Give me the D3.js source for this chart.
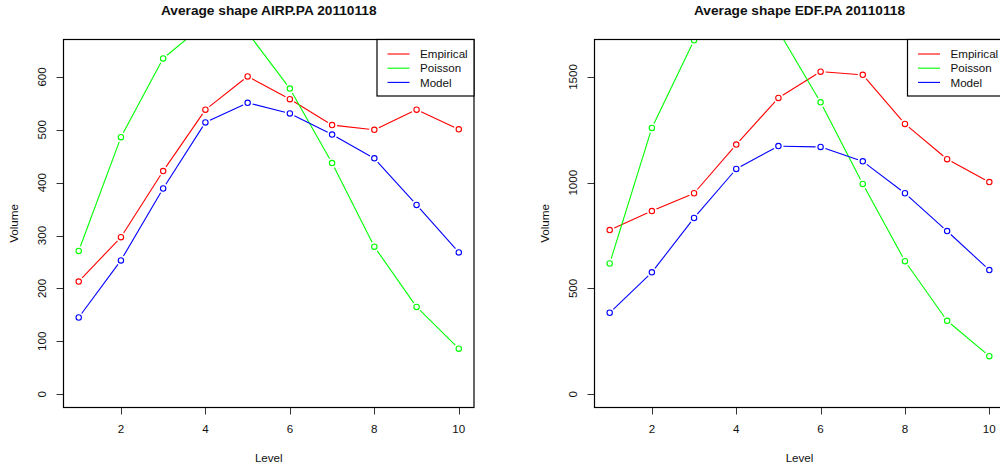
<!DOCTYPE html>
<html>
<head>
<meta charset="utf-8">
<script src="https://cdn.jsdelivr.net/npm/d3@7"></script>
<style>
  body { margin: 0; background: #fff; }
  svg { display: block; font-family: "Liberation Sans", Arial, sans-serif; }
</style>
</head>
<body>
<svg width="1000" height="465"></svg>
<script>
// data
const levels = [1, 2, 3, 4, 5, 6, 7, 8, 9, 10];
const xTicks = [2, 4, 6, 8, 10];
const seriesNames = ["Empirical", "Poisson", "Model"];
const seriesColors = ["#ff0000", "#00ff00", "#0000ff"];

const airpEmpirical = [213, 297, 422, 538, 601, 558, 509, 500, 538, 501];
const airpPoisson = [271, 486, 635, 701, 684, 578, 437, 279, 165, 86];
const airpModel = [145, 253, 389, 514, 551, 531, 491, 446, 358, 268];
const airpYTicks = [0, 100, 200, 300, 400, 500, 600];

const edfEmpirical = [776, 866, 950, 1180, 1401, 1525, 1510, 1278, 1111, 1003];
const edfPoisson = [618, 1259, 1673, 1840, 1718, 1380, 994, 629, 347, 180];
const edfModel = [385, 576, 833, 1065, 1173, 1169, 1101, 950, 771, 587];
const edfYTicks = [0, 500, 1000, 1500];

const svg = d3.select("svg");

function drawPanel(opt) {
    const top = 39.5, bottom = 407.5;
    const g = svg.append("g");

    const x = d3.scaleLinear().domain([0.64, 10.36]).range([opt.left, opt.right]);
    const y = d3.scaleLinear().domain(opt.yDomain).range([bottom, top]);

    // clip to plot region
    g.append("clipPath").attr("id", opt.id + "-clip")
        .append("rect")
        .attr("x", opt.left).attr("y", top)
        .attr("width", opt.right - opt.left).attr("height", bottom - top);

    const plot = g.append("g").attr("clip-path", `url(#${opt.id}-clip)`);

    const gap = 5;
    opt.series.forEach((vals, si) => {
        const pts = vals.map((v, i) => [x(levels[i]), y(v)]);
        // type = "b": segments stop short of the points
        for (let i = 0; i < pts.length - 1; i++) {
            const [x0, y0] = pts[i], [x1, y1] = pts[i + 1];
            const len = Math.hypot(x1 - x0, y1 - y0);
            if (len <= 2 * gap) continue;
            const ux = (x1 - x0) / len, uy = (y1 - y0) / len;
            plot.append("line")
                .attr("x1", x0 + ux * gap).attr("y1", y0 + uy * gap)
                .attr("x2", x1 - ux * gap).attr("y2", y1 - uy * gap)
                .attr("stroke", seriesColors[si])
                .attr("stroke-width", 1.1);
        }
        plot.selectAll(null)
            .data(vals)
            .enter().append("circle")
            .attr("cx", (d, i) => x(levels[i]))
            .attr("cy", d => y(d))
            .attr("r", 2.7)
            .attr("fill", "none")
            .attr("stroke", seriesColors[si])
            .attr("stroke-width", 1.1);
    });

    // y axis ticks + labels
    const yAx = g.append("g");
    yAx.selectAll("line").data(opt.yTicks).enter().append("line")
        .attr("x1", opt.left - 7).attr("x2", opt.left)
        .attr("y1", d => Math.round(y(d)) + 0.5).attr("y2", d => Math.round(y(d)) + 0.5)
        .attr("stroke", "#333");
    yAx.selectAll("text").data(opt.yTicks).enter().append("text")
        .attr("transform", d => `translate(${opt.yLabelX + 4.2},${y(d)}) rotate(-90)`)
        .attr("text-anchor", "middle")
        .attr("font-size", 11.6)
        .attr("fill", "#111")
        .text(d => d);

    // x axis ticks + labels
    const xAx = g.append("g");
    xAx.selectAll("line").data(xTicks).enter().append("line")
        .attr("x1", d => Math.round(x(d)) + 0.5).attr("x2", d => Math.round(x(d)) + 0.5)
        .attr("y1", bottom).attr("y2", bottom + 7)
        .attr("stroke", "#333");
    xAx.selectAll("text").data(xTicks).enter().append("text")
        .attr("x", d => x(d))
        .attr("y", 433.2)
        .attr("text-anchor", "middle")
        .attr("font-size", 11.6)
        .attr("fill", "#111")
        .text(d => d);

    // box
    g.append("rect")
        .attr("x", opt.left).attr("y", top)
        .attr("width", opt.right - opt.left).attr("height", bottom - top)
        .attr("fill", "none").attr("stroke", "#000").attr("stroke-width", 1.2);

    // titles
    const cx = (opt.left + opt.right) / 2;
    g.append("text")
        .attr("x", cx).attr("y", 15.2)
        .attr("text-anchor", "middle")
        .attr("font-size", 13.7).attr("font-weight", "bold")
        .attr("fill", "#111")
        .text(opt.title);
    g.append("text")
        .attr("x", cx).attr("y", 461.8)
        .attr("text-anchor", "middle")
        .attr("font-size", 11.6)
        .attr("fill", "#111")
        .text("Level");
    g.append("text")
        .attr("transform", `translate(${opt.volumeX + 4.2},${(top + bottom) / 2}) rotate(-90)`)
        .attr("text-anchor", "middle")
        .attr("font-size", 11.6)
        .attr("fill", "#111")
        .text("Volume");

    // legend (top right)
    const legW = 97, legH = 56.5;
    const lg = g.append("g").attr("transform", `translate(${opt.right - legW},${top})`);
    lg.append("rect")
        .attr("width", legW).attr("height", legH)
        .attr("fill", "#fff").attr("stroke", "#000").attr("stroke-width", 1.2);
    seriesNames.forEach((name, i) => {
        const ry = 14.5 + i * 14.2;
        lg.append("line")
            .attr("x1", 10.5).attr("x2", 32.5)
            .attr("y1", ry).attr("y2", ry)
            .attr("stroke", seriesColors[i]).attr("stroke-width", 1.1);
        lg.append("text")
            .attr("x", 43).attr("y", ry + 4.2)
            .attr("font-size", 11.6)
            .attr("fill", "#111")
            .text(name);
    });
}

drawPanel({
    id: "airp", title: "Average shape AIRP.PA 20110118",
    left: 63.5, right: 474, yLabelX: 41.7, volumeX: 13.3,
    yDomain: [-25.2, 670.8], yTicks: airpYTicks,
    series: [airpEmpirical, airpPoisson, airpModel]
});

drawPanel({
    id: "edf", title: "Average shape EDF.PA 20110118",
    left: 594.5, right: 1004.5, yLabelX: 572.7, volumeX: 545,
    yDomain: [-62.9, 1677], yTicks: edfYTicks,
    series: [edfEmpirical, edfPoisson, edfModel]
});
</script>
</body>
</html>
